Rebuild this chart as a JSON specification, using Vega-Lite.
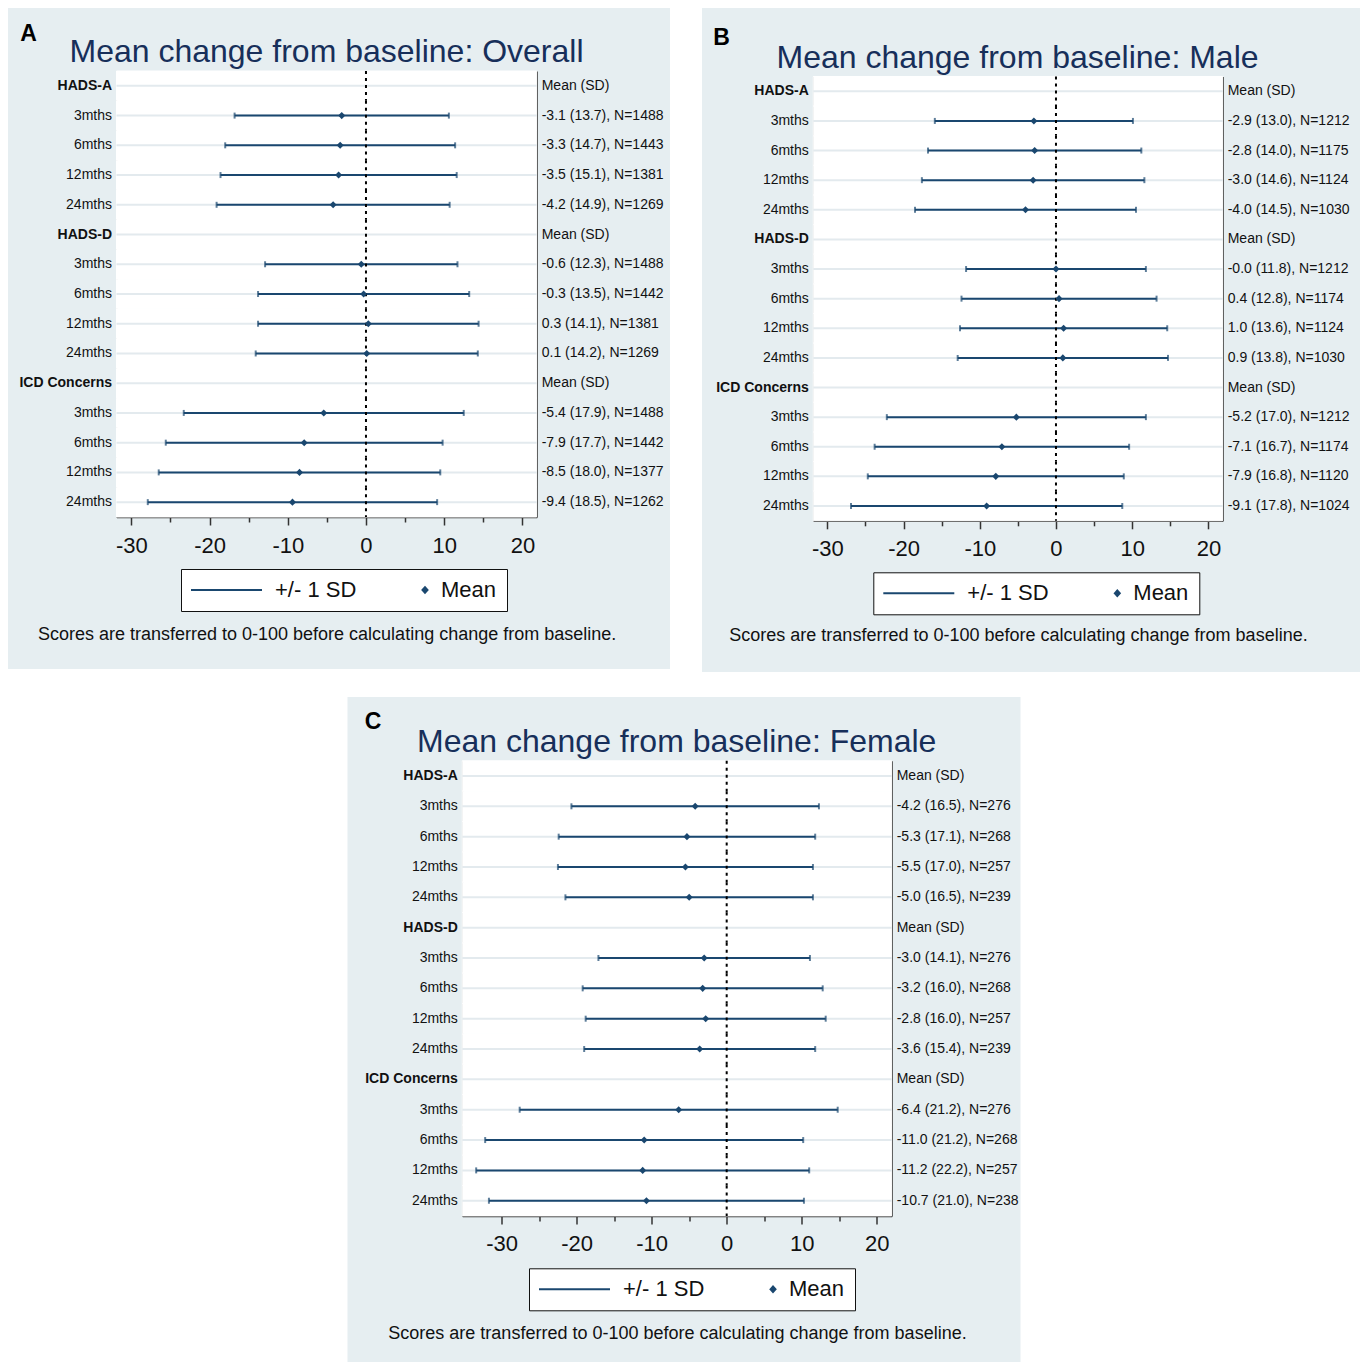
{
  "$schema": "https://vega.github.io/schema/vega-lite/v6.json",
  "background": "white",
  "padding": {"left": 8, "top": 8, "right": 0, "bottom": 0},
  "spacing": 25,
  "center": true,
  "resolve": {"scale": {"shape": "independent", "stroke": "independent"}, "legend": {"shape": "independent", "stroke": "independent"}},
  "datasets": {
    "overall": [
      {"key": "HADS-A", "stat": "Mean (SD)"},
      {"key": "HADS-A|3mths", "mean": -3.1, "sd": 13.7, "n": 1488, "stat": "-3.1 (13.7), N=1488"},
      {"key": "HADS-A|6mths", "mean": -3.3, "sd": 14.7, "n": 1443, "stat": "-3.3 (14.7), N=1443"},
      {"key": "HADS-A|12mths", "mean": -3.5, "sd": 15.1, "n": 1381, "stat": "-3.5 (15.1), N=1381"},
      {"key": "HADS-A|24mths", "mean": -4.2, "sd": 14.9, "n": 1269, "stat": "-4.2 (14.9), N=1269"},
      {"key": "HADS-D", "stat": "Mean (SD)"},
      {"key": "HADS-D|3mths", "mean": -0.6, "sd": 12.3, "n": 1488, "stat": "-0.6 (12.3), N=1488"},
      {"key": "HADS-D|6mths", "mean": -0.3, "sd": 13.5, "n": 1442, "stat": "-0.3 (13.5), N=1442"},
      {"key": "HADS-D|12mths", "mean": 0.3, "sd": 14.1, "n": 1381, "stat": "0.3 (14.1), N=1381"},
      {"key": "HADS-D|24mths", "mean": 0.1, "sd": 14.2, "n": 1269, "stat": "0.1 (14.2), N=1269"},
      {"key": "ICD Concerns", "stat": "Mean (SD)"},
      {"key": "ICD Concerns|3mths", "mean": -5.4, "sd": 17.9, "n": 1488, "stat": "-5.4 (17.9), N=1488"},
      {"key": "ICD Concerns|6mths", "mean": -7.9, "sd": 17.7, "n": 1442, "stat": "-7.9 (17.7), N=1442"},
      {"key": "ICD Concerns|12mths", "mean": -8.5, "sd": 18.0, "n": 1377, "stat": "-8.5 (18.0), N=1377"},
      {"key": "ICD Concerns|24mths", "mean": -9.4, "sd": 18.5, "n": 1262, "stat": "-9.4 (18.5), N=1262"}
    ],
    "male": [
      {"key": "HADS-A", "stat": "Mean (SD)"},
      {"key": "HADS-A|3mths", "mean": -2.9, "sd": 13.0, "n": 1212, "stat": "-2.9 (13.0), N=1212"},
      {"key": "HADS-A|6mths", "mean": -2.8, "sd": 14.0, "n": 1175, "stat": "-2.8 (14.0), N=1175"},
      {"key": "HADS-A|12mths", "mean": -3.0, "sd": 14.6, "n": 1124, "stat": "-3.0 (14.6), N=1124"},
      {"key": "HADS-A|24mths", "mean": -4.0, "sd": 14.5, "n": 1030, "stat": "-4.0 (14.5), N=1030"},
      {"key": "HADS-D", "stat": "Mean (SD)"},
      {"key": "HADS-D|3mths", "mean": 0.0, "sd": 11.8, "n": 1212, "stat": "-0.0 (11.8), N=1212"},
      {"key": "HADS-D|6mths", "mean": 0.4, "sd": 12.8, "n": 1174, "stat": "0.4 (12.8), N=1174"},
      {"key": "HADS-D|12mths", "mean": 1.0, "sd": 13.6, "n": 1124, "stat": "1.0 (13.6), N=1124"},
      {"key": "HADS-D|24mths", "mean": 0.9, "sd": 13.8, "n": 1030, "stat": "0.9 (13.8), N=1030"},
      {"key": "ICD Concerns", "stat": "Mean (SD)"},
      {"key": "ICD Concerns|3mths", "mean": -5.2, "sd": 17.0, "n": 1212, "stat": "-5.2 (17.0), N=1212"},
      {"key": "ICD Concerns|6mths", "mean": -7.1, "sd": 16.7, "n": 1174, "stat": "-7.1 (16.7), N=1174"},
      {"key": "ICD Concerns|12mths", "mean": -7.9, "sd": 16.8, "n": 1120, "stat": "-7.9 (16.8), N=1120"},
      {"key": "ICD Concerns|24mths", "mean": -9.1, "sd": 17.8, "n": 1024, "stat": "-9.1 (17.8), N=1024"}
    ],
    "female": [
      {"key": "HADS-A", "stat": "Mean (SD)"},
      {"key": "HADS-A|3mths", "mean": -4.2, "sd": 16.5, "n": 276, "stat": "-4.2 (16.5), N=276"},
      {"key": "HADS-A|6mths", "mean": -5.3, "sd": 17.1, "n": 268, "stat": "-5.3 (17.1), N=268"},
      {"key": "HADS-A|12mths", "mean": -5.5, "sd": 17.0, "n": 257, "stat": "-5.5 (17.0), N=257"},
      {"key": "HADS-A|24mths", "mean": -5.0, "sd": 16.5, "n": 239, "stat": "-5.0 (16.5), N=239"},
      {"key": "HADS-D", "stat": "Mean (SD)"},
      {"key": "HADS-D|3mths", "mean": -3.0, "sd": 14.1, "n": 276, "stat": "-3.0 (14.1), N=276"},
      {"key": "HADS-D|6mths", "mean": -3.2, "sd": 16.0, "n": 268, "stat": "-3.2 (16.0), N=268"},
      {"key": "HADS-D|12mths", "mean": -2.8, "sd": 16.0, "n": 257, "stat": "-2.8 (16.0), N=257"},
      {"key": "HADS-D|24mths", "mean": -3.6, "sd": 15.4, "n": 239, "stat": "-3.6 (15.4), N=239"},
      {"key": "ICD Concerns", "stat": "Mean (SD)"},
      {"key": "ICD Concerns|3mths", "mean": -6.4, "sd": 21.2, "n": 276, "stat": "-6.4 (21.2), N=276"},
      {"key": "ICD Concerns|6mths", "mean": -11.0, "sd": 21.2, "n": 268, "stat": "-11.0 (21.2), N=268"},
      {"key": "ICD Concerns|12mths", "mean": -11.2, "sd": 22.2, "n": 257, "stat": "-11.2 (22.2), N=257"},
      {"key": "ICD Concerns|24mths", "mean": -10.7, "sd": 21.0, "n": 238, "stat": "-10.7 (21.0), N=238"}
    ]
  },
  "vconcat": [
    {
      "spacing": 32,
      "resolve": {"scale": {"shape": "independent", "stroke": "independent"}, "legend": {"shape": "independent", "stroke": "independent"}},
      "hconcat": [
        {
          "width": 662, "height": 661,
          "view": {"fill": "#e6eef1", "stroke": null},
          "data": {"name": "overall"},
          "title": {"text": "Mean change from baseline: Overall", "fontSize": 32, "font": "Liberation Sans", "fontWeight": "normal", "color": "#172f5a", "anchor": "middle", "frame": "group", "dx": -12.5, "offset": -86, "baseline": "alphabetic"},
          "resolve": {"axis": {"x": "independent", "y": "independent"}},
          "layer": [
            {"mark": {"type": "rect", "color": "white", "stroke": "white", "strokeWidth": 1},
             "encoding": {
               "x": {"datum": -31.9, "type": "quantitative", "axis": null},
               "x2": {"datum": 21.83},
               "y": {"field": "key", "type": "nominal", "axis": null,
                     "scale": {"type": "band", "domain": ["HADS-A","HADS-A|3mths","HADS-A|6mths","HADS-A|12mths","HADS-A|24mths","HADS-D","HADS-D|3mths","HADS-D|6mths","HADS-D|12mths","HADS-D|24mths","ICD Concerns","ICD Concerns|3mths","ICD Concerns|6mths","ICD Concerns|12mths","ICD Concerns|24mths"], "range": [63, 509], "paddingInner": 0, "paddingOuter": 0}}}},
            {"mark": {"type": "rule", "color": "#e3eaee", "strokeWidth": 2},
             "encoding": {
               "x": {"datum": -31.9, "type": "quantitative", "axis": null},
               "x2": {"datum": 21.83},
               "y": {"field": "key", "type": "nominal", "axis": null}}},
            {"transform": [{"filter": "isValid(datum.mean)"}],
             "mark": {"type": "errorbar", "color": "#1a476f", "thickness": 2, "ticks": {"size": 6, "thickness": 2, "color": "#1a476f"}},
             "encoding": {
               "x": {"field": "mean", "type": "quantitative", "axis": null},
               "xError": {"field": "sd"},
               "y": {"field": "key", "type": "nominal", "axis": null}}},
            {"mark": {"type": "rule", "color": "black", "strokeWidth": 2, "strokeDash": [3, 4]},
             "encoding": {
               "x": {"datum": 0, "type": "quantitative", "axis": null},
               "y": {"field": "key", "type": "nominal", "bandPosition": 0, "axis": null},
               "y2": {"field": "key", "bandPosition": 1}}},
            {"transform": [{"filter": "isValid(datum.mean)"}],
             "mark": {"type": "point", "shape": "diamond", "filled": true, "color": "#1a476f", "size": 50, "opacity": 1},
             "encoding": {
               "x": {"field": "mean", "type": "quantitative",
                     "scale": {"domain": [-31.9, 21.83], "range": [108.5, 528.7], "nice": false, "zero": false},
                     "axis": {"orient": "bottom", "offset": -152, "values": [-30, -20, -10, 0, 10, 20], "labelExpr": "'' + datum.value", "tickSize": 8, "tickWidth": 1.5, "tickColor": "#333333", "domainColor": "#333333", "domainWidth": 1.5, "labelFontSize": 22, "labelColor": "#111111", "labelPadding": 10, "labelFlush": false, "labelOverlap": false, "grid": false,
                              "title": "Scores are transferred to 0-100 before calculating change from baseline.", "titleFontSize": 18, "titleFontWeight": "normal", "titleColor": "#111111", "titleY": 122, "titleBaseline": "alphabetic"}},
               "y": {"field": "key", "type": "nominal",
                     "scale": {"type": "band", "domain": ["HADS-A","HADS-A|3mths","HADS-A|6mths","HADS-A|12mths","HADS-A|24mths","HADS-D","HADS-D|3mths","HADS-D|6mths","HADS-D|12mths","HADS-D|24mths","ICD Concerns","ICD Concerns|3mths","ICD Concerns|6mths","ICD Concerns|12mths","ICD Concerns|24mths"], "range": [63, 509], "paddingInner": 0, "paddingOuter": 0},
                     "axis": {"orient": "left", "offset": -108.5, "ticks": false, "domainColor": "#333333", "domainWidth": 1.5, "labelFontSize": 14, "labelColor": "#111111", "labelPadding": 5,
                              "labelExpr": "indexof(datum.value, '|') >= 0 ? slice(datum.value, indexof(datum.value, '|') + 1) : datum.value",
                              "labelFontWeight": {"condition": {"test": "indexof(datum.value, '|') < 0", "value": "bold"}, "value": "normal"},
                              "grid": false, "title": "A", "titleAngle": 0, "titleFontSize": 23, "titleFontWeight": "bold", "titleColor": "black", "titleX": -88.5, "titleY": 25, "titleAlign": "center", "titleBaseline": "middle"}}}},
            {"mark": {"type": "text", "align": "left", "baseline": "middle", "dx": 5, "fontSize": 14, "color": "#111111"},
             "encoding": {
               "x": {"datum": 21.83, "type": "quantitative",
                     "axis": {"orient": "bottom", "offset": -152, "values": [-25, -15, -5, 5, 15], "tickSize": 5, "tickWidth": 1.5, "tickColor": "#333333", "domain": false, "labels": false, "grid": false, "title": null}},
               "y": {"field": "key", "type": "nominal",
                     "axis": {"orient": "right", "offset": -133.3, "ticks": false, "labels": false, "domainColor": "#333333", "domainWidth": 1.5, "grid": false, "title": null}},
               "text": {"field": "stat"}}},
            {"transform": [{"filter": "isValid(datum.mean)"}],
             "mark": {"type": "point", "filled": true, "color": "#1a476f", "size": 25, "opacity": 0},
             "encoding": {
               "x": {"field": "mean", "type": "quantitative", "axis": null},
               "y": {"field": "key", "type": "nominal", "axis": null},
               "shape": {"datum": "Mean", "type": "nominal",
                         "scale": {"domain": ["+/- 1 SD", "Mean"], "range": ["M-4.4,0H24", "M21.8,0L22.8,-1.1L23.8,0L22.8,1.1Z"]},
                         "legend": {"orient": "none", "legendX": 173, "legendY": 561, "direction": "horizontal", "title": null, "fillColor": "white", "strokeColor": "#111111", "padding": 10, "labelFontSize": 22, "labelFont": "Liberation Sans", "labelColor": "#111111", "labelOffset": 62, "columnPadding": 0, "symbolSize": 25, "symbolStrokeWidth": 2, "symbolOpacity": 1}},
               "stroke": {"datum": "Mean", "type": "nominal",
                          "scale": {"domain": ["+/- 1 SD", "Mean"], "range": ["#1a476f", "#1a476f"]},
                          "legend": {"orient": "none", "legendX": 173, "legendY": 561, "direction": "horizontal", "title": null, "fillColor": "white", "strokeColor": "#111111", "padding": 10, "labelFontSize": 22, "labelFont": "Liberation Sans", "labelColor": "#111111", "labelOffset": 62, "columnPadding": 0, "symbolSize": 25, "symbolStrokeWidth": 2, "symbolOpacity": 1}}}}
          ]
        },
        {
          "width": 658, "height": 664,
          "view": {"fill": "#e6eef1", "stroke": null},
          "data": {"name": "male"},
          "title": {"text": "Mean change from baseline: Male", "fontSize": 32, "font": "Liberation Sans", "fontWeight": "normal", "color": "#172f5a", "anchor": "middle", "frame": "group", "dx": -13.5, "offset": -92, "baseline": "alphabetic"},
          "resolve": {"axis": {"x": "independent", "y": "independent"}},
          "layer": [
            {"mark": {"type": "rect", "color": "white", "stroke": "white", "strokeWidth": 1},
             "encoding": {
               "x": {"datum": -31.85, "type": "quantitative", "axis": null},
               "x2": {"datum": 21.88},
               "y": {"field": "key", "type": "nominal", "axis": null,
                     "scale": {"type": "band", "domain": ["HADS-A","HADS-A|3mths","HADS-A|6mths","HADS-A|12mths","HADS-A|24mths","HADS-D","HADS-D|3mths","HADS-D|6mths","HADS-D|12mths","HADS-D|24mths","ICD Concerns","ICD Concerns|3mths","ICD Concerns|6mths","ICD Concerns|12mths","ICD Concerns|24mths"], "range": [68.5, 512.8], "paddingInner": 0, "paddingOuter": 0}}}},
            {"mark": {"type": "rule", "color": "#e3eaee", "strokeWidth": 2},
             "encoding": {
               "x": {"datum": -31.85, "type": "quantitative", "axis": null},
               "x2": {"datum": 21.88},
               "y": {"field": "key", "type": "nominal", "axis": null}}},
            {"transform": [{"filter": "isValid(datum.mean)"}],
             "mark": {"type": "errorbar", "color": "#1a476f", "thickness": 2, "ticks": {"size": 6, "thickness": 2, "color": "#1a476f"}},
             "encoding": {
               "x": {"field": "mean", "type": "quantitative", "axis": null},
               "xError": {"field": "sd"},
               "y": {"field": "key", "type": "nominal", "axis": null}}},
            {"mark": {"type": "rule", "color": "black", "strokeWidth": 2, "strokeDash": [3, 4]},
             "encoding": {
               "x": {"datum": 0, "type": "quantitative", "axis": null},
               "y": {"field": "key", "type": "nominal", "bandPosition": 0, "axis": null},
               "y2": {"field": "key", "bandPosition": 1}}},
            {"transform": [{"filter": "isValid(datum.mean)"}],
             "mark": {"type": "point", "shape": "diamond", "filled": true, "color": "#1a476f", "size": 50, "opacity": 1},
             "encoding": {
               "x": {"field": "mean", "type": "quantitative",
                     "scale": {"domain": [-31.85, 21.88], "range": [111.3, 520.7], "nice": false, "zero": false},
                     "axis": {"orient": "bottom", "offset": -151.2, "values": [-30, -20, -10, 0, 10, 20], "labelExpr": "'' + datum.value", "tickSize": 8, "tickWidth": 1.5, "tickColor": "#333333", "domainColor": "#333333", "domainWidth": 1.5, "labelFontSize": 22, "labelColor": "#111111", "labelPadding": 10, "labelFlush": false, "labelOverlap": false, "grid": false,
                              "title": "Scores are transferred to 0-100 before calculating change from baseline.", "titleFontSize": 18, "titleFontWeight": "normal", "titleColor": "#111111", "titleY": 120, "titleBaseline": "alphabetic"}},
               "y": {"field": "key", "type": "nominal",
                     "scale": {"type": "band", "domain": ["HADS-A","HADS-A|3mths","HADS-A|6mths","HADS-A|12mths","HADS-A|24mths","HADS-D","HADS-D|3mths","HADS-D|6mths","HADS-D|12mths","HADS-D|24mths","ICD Concerns","ICD Concerns|3mths","ICD Concerns|6mths","ICD Concerns|12mths","ICD Concerns|24mths"], "range": [68.5, 512.8], "paddingInner": 0, "paddingOuter": 0},
                     "axis": {"orient": "left", "offset": -111.3, "ticks": false, "domainColor": "#333333", "domainWidth": 1.5, "labelFontSize": 14, "labelColor": "#111111", "labelPadding": 5,
                              "labelExpr": "indexof(datum.value, '|') >= 0 ? slice(datum.value, indexof(datum.value, '|') + 1) : datum.value",
                              "labelFontWeight": {"condition": {"test": "indexof(datum.value, '|') < 0", "value": "bold"}, "value": "normal"},
                              "grid": false, "title": "B", "titleAngle": 0, "titleFontSize": 23, "titleFontWeight": "bold", "titleColor": "black", "titleX": -92.3, "titleY": 29.5, "titleAlign": "center", "titleBaseline": "middle"}}}},
            {"mark": {"type": "text", "align": "left", "baseline": "middle", "dx": 5, "fontSize": 14, "color": "#111111"},
             "encoding": {
               "x": {"datum": 21.88, "type": "quantitative",
                     "axis": {"orient": "bottom", "offset": -151.2, "values": [-25, -15, -5, 5, 15], "tickSize": 5, "tickWidth": 1.5, "tickColor": "#333333", "domain": false, "labels": false, "grid": false, "title": null}},
               "y": {"field": "key", "type": "nominal",
                     "axis": {"orient": "right", "offset": -137.3, "ticks": false, "labels": false, "domainColor": "#333333", "domainWidth": 1.5, "grid": false, "title": null}},
               "text": {"field": "stat"}}},
            {"transform": [{"filter": "isValid(datum.mean)"}],
             "mark": {"type": "point", "filled": true, "color": "#1a476f", "size": 25, "opacity": 0},
             "encoding": {
               "x": {"field": "mean", "type": "quantitative", "axis": null},
               "y": {"field": "key", "type": "nominal", "axis": null},
               "shape": {"datum": "Mean", "type": "nominal",
                         "scale": {"domain": ["+/- 1 SD", "Mean"], "range": ["M-4.4,0H24", "M21.8,0L22.8,-1.1L23.8,0L22.8,1.1Z"]},
                         "legend": {"orient": "none", "legendX": 171.3, "legendY": 564.3, "direction": "horizontal", "title": null, "fillColor": "white", "strokeColor": "#111111", "padding": 10, "labelFontSize": 22, "labelFont": "Liberation Sans", "labelColor": "#111111", "labelOffset": 62, "columnPadding": 0, "symbolSize": 25, "symbolStrokeWidth": 2, "symbolOpacity": 1}},
               "stroke": {"datum": "Mean", "type": "nominal",
                          "scale": {"domain": ["+/- 1 SD", "Mean"], "range": ["#1a476f", "#1a476f"]},
                          "legend": {"orient": "none", "legendX": 171.3, "legendY": 564.3, "direction": "horizontal", "title": null, "fillColor": "white", "strokeColor": "#111111", "padding": 10, "labelFontSize": 22, "labelFont": "Liberation Sans", "labelColor": "#111111", "labelOffset": 62, "columnPadding": 0, "symbolSize": 25, "symbolStrokeWidth": 2, "symbolOpacity": 1}}}}
          ]
        }
      ]
    },
    {
      "width": 673, "height": 665,
      "view": {"fill": "#e6eef1", "stroke": null},
      "data": {"name": "female"},
      "title": {"text": "Mean change from baseline: Female", "fontSize": 32, "font": "Liberation Sans", "fontWeight": "normal", "color": "#172f5a", "anchor": "middle", "frame": "group", "dx": -7.3, "offset": -87, "baseline": "alphabetic"},
      "resolve": {"axis": {"x": "independent", "y": "independent"}},
      "layer": [
        {"mark": {"type": "rect", "color": "white", "stroke": "white", "strokeWidth": 1},
         "encoding": {
           "x": {"datum": -35.25, "type": "quantitative", "axis": null},
           "x2": {"datum": 22.0},
           "y": {"field": "key", "type": "nominal", "axis": null,
                 "scale": {"type": "band", "domain": ["HADS-A","HADS-A|3mths","HADS-A|6mths","HADS-A|12mths","HADS-A|24mths","HADS-D","HADS-D|3mths","HADS-D|6mths","HADS-D|12mths","HADS-D|24mths","ICD Concerns","ICD Concerns|3mths","ICD Concerns|6mths","ICD Concerns|12mths","ICD Concerns|24mths"], "range": [63.8, 518.9], "paddingInner": 0, "paddingOuter": 0}}}},
        {"mark": {"type": "rule", "color": "#e3eaee", "strokeWidth": 2},
         "encoding": {
           "x": {"datum": -35.25, "type": "quantitative", "axis": null},
           "x2": {"datum": 22.0},
           "y": {"field": "key", "type": "nominal", "axis": null}}},
        {"transform": [{"filter": "isValid(datum.mean)"}],
         "mark": {"type": "errorbar", "color": "#1a476f", "thickness": 2, "ticks": {"size": 6, "thickness": 2, "color": "#1a476f"}},
         "encoding": {
           "x": {"field": "mean", "type": "quantitative", "axis": null},
           "xError": {"field": "sd"},
           "y": {"field": "key", "type": "nominal", "axis": null}}},
        {"mark": {"type": "rule", "color": "black", "strokeWidth": 2, "strokeDash": [3, 4]},
         "encoding": {
           "x": {"datum": 0, "type": "quantitative", "axis": null},
           "y": {"field": "key", "type": "nominal", "bandPosition": 0, "axis": null},
           "y2": {"field": "key", "bandPosition": 1}}},
        {"transform": [{"filter": "isValid(datum.mean)"}],
         "mark": {"type": "point", "shape": "diamond", "filled": true, "color": "#1a476f", "size": 50, "opacity": 1},
         "encoding": {
           "x": {"field": "mean", "type": "quantitative",
                 "scale": {"domain": [-35.25, 22.0], "range": [114.8, 544.2], "nice": false, "zero": false},
                 "axis": {"orient": "bottom", "offset": -146.1, "values": [-30, -20, -10, 0, 10, 20], "labelExpr": "'' + datum.value", "tickSize": 8, "tickWidth": 1.5, "tickColor": "#333333", "domainColor": "#333333", "domainWidth": 1.5, "labelFontSize": 22, "labelColor": "#111111", "labelPadding": 10, "labelFlush": false, "labelOverlap": false, "grid": false,
                          "title": "Scores are transferred to 0-100 before calculating change from baseline.", "titleFontSize": 18, "titleFontWeight": "normal", "titleColor": "#111111", "titleY": 122.4, "titleBaseline": "alphabetic"}},
           "y": {"field": "key", "type": "nominal",
                 "scale": {"type": "band", "domain": ["HADS-A","HADS-A|3mths","HADS-A|6mths","HADS-A|12mths","HADS-A|24mths","HADS-D","HADS-D|3mths","HADS-D|6mths","HADS-D|12mths","HADS-D|24mths","ICD Concerns","ICD Concerns|3mths","ICD Concerns|6mths","ICD Concerns|12mths","ICD Concerns|24mths"], "range": [63.8, 518.9], "paddingInner": 0, "paddingOuter": 0},
                 "axis": {"orient": "left", "offset": -114.8, "ticks": false, "domainColor": "#333333", "domainWidth": 1.5, "labelFontSize": 14, "labelColor": "#111111", "labelPadding": 5,
                          "labelExpr": "indexof(datum.value, '|') >= 0 ? slice(datum.value, indexof(datum.value, '|') + 1) : datum.value",
                          "labelFontWeight": {"condition": {"test": "indexof(datum.value, '|') < 0", "value": "bold"}, "value": "normal"},
                          "grid": false, "title": "C", "titleAngle": 0, "titleFontSize": 23, "titleFontWeight": "bold", "titleColor": "black", "titleX": -89.8, "titleY": 24.5, "titleAlign": "center", "titleBaseline": "middle"}}}},
        {"mark": {"type": "text", "align": "left", "baseline": "middle", "dx": 5, "fontSize": 14, "color": "#111111"},
         "encoding": {
           "x": {"datum": 22.0, "type": "quantitative",
                 "axis": {"orient": "bottom", "offset": -146.1, "values": [-25, -15, -5, 5, 15], "tickSize": 5, "tickWidth": 1.5, "tickColor": "#333333", "domain": false, "labels": false, "grid": false, "title": null}},
           "y": {"field": "key", "type": "nominal",
                 "axis": {"orient": "right", "offset": -128.8, "ticks": false, "labels": false, "domainColor": "#333333", "domainWidth": 1.5, "grid": false, "title": null}},
           "text": {"field": "stat"}}},
        {"transform": [{"filter": "isValid(datum.mean)"}],
         "mark": {"type": "point", "filled": true, "color": "#1a476f", "size": 25, "opacity": 0},
         "encoding": {
           "x": {"field": "mean", "type": "quantitative", "axis": null},
           "y": {"field": "key", "type": "nominal", "axis": null},
           "shape": {"datum": "Mean", "type": "nominal",
                     "scale": {"domain": ["+/- 1 SD", "Mean"], "range": ["M-4.4,0H24", "M21.8,0L22.8,-1.1L23.8,0L22.8,1.1Z"]},
                     "legend": {"orient": "none", "legendX": 181.5, "legendY": 571.3, "direction": "horizontal", "title": null, "fillColor": "white", "strokeColor": "#111111", "padding": 10, "labelFontSize": 22, "labelFont": "Liberation Sans", "labelColor": "#111111", "labelOffset": 62, "columnPadding": 0, "symbolSize": 25, "symbolStrokeWidth": 2, "symbolOpacity": 1}},
           "stroke": {"datum": "Mean", "type": "nominal",
                      "scale": {"domain": ["+/- 1 SD", "Mean"], "range": ["#1a476f", "#1a476f"]},
                      "legend": {"orient": "none", "legendX": 181.5, "legendY": 571.3, "direction": "horizontal", "title": null, "fillColor": "white", "strokeColor": "#111111", "padding": 10, "labelFontSize": 22, "labelFont": "Liberation Sans", "labelColor": "#111111", "labelOffset": 62, "columnPadding": 0, "symbolSize": 25, "symbolStrokeWidth": 2, "symbolOpacity": 1}}}}
      ]
    }
  ],
  "config": {
    "font": "Liberation Sans",
    "view": {"stroke": null},
    "axis": {"labelFont": "Liberation Sans", "titleFont": "Liberation Sans"}
  }
}
